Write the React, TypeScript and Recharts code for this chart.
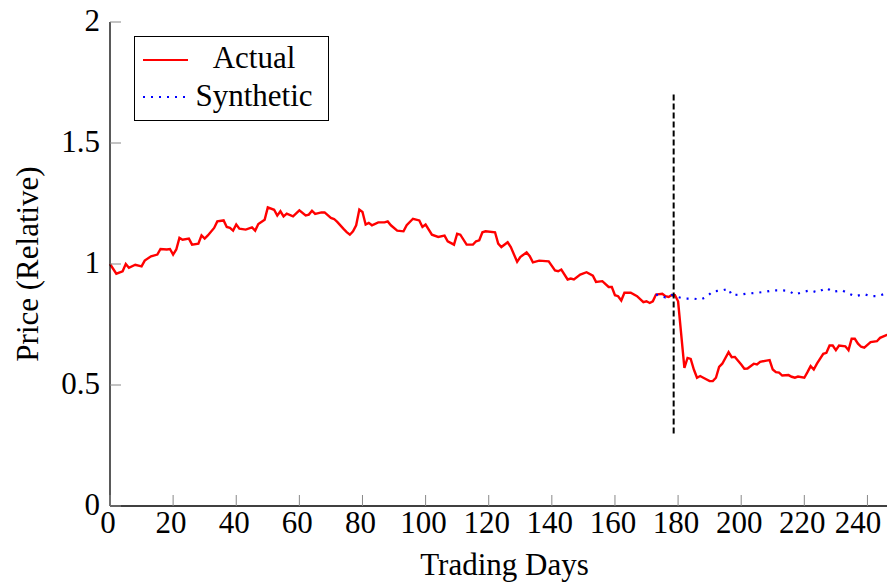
import { LineChart, Line, XAxis, YAxis, ReferenceLine, Legend } from "recharts";

const FONT = '"Liberation Serif", "Times New Roman", serif';
const FS = 31;

const X_TICKS = [0, 20, 40, 60, 80, 100, 120, 140, 160, 180, 200, 220, 240];
const Y_TICKS = [0, 0.5, 1, 1.5, 2];

// actual price, relative to day 0
const ACTUAL_DAYS = [
  0, 2, 4, 5, 6, 8, 10, 11, 13, 15, 16, 18, 19, 20, 21, 22, 23, 25, 26, 28,
  29, 30, 31, 33, 34, 36, 37, 38, 39, 40, 41, 43, 45, 46, 47, 49, 50, 52, 53, 54,
  55, 56, 58, 60, 62, 63, 64, 65, 67, 68, 70, 71, 72, 74, 75, 76, 77, 78, 79, 80,
  81, 82, 83, 85, 87, 88, 89, 91, 93, 94, 96, 98, 99, 100, 102, 104, 106, 107, 109, 110,
  111, 113, 115, 116, 117, 118, 119, 122, 123, 124, 126, 127, 129, 130, 132, 133, 134, 136, 139, 141,
  142, 143, 145, 146, 147, 149, 151, 153, 154, 156, 158, 159, 160, 161, 162, 163, 165, 167, 169, 170,
  171, 172, 173, 175, 176, 177, 178, 179, 180, 182, 183, 184, 185, 186, 187, 188, 190, 191, 192, 193,
  194, 196, 197, 198, 200, 201, 202, 204, 205, 206, 208, 209, 210, 211, 212, 213, 215, 216, 217, 218,
  220, 221, 222, 223, 224, 226, 227, 228, 229, 230, 231, 233, 234, 235, 236, 237, 238, 239, 241, 243,
  244, 246, 247,
];
const ACTUAL = [
  1.0, 0.96, 0.97, 1.0, 0.984, 0.997, 0.99, 1.014, 1.032, 1.039, 1.062, 1.06, 1.062, 1.039, 1.06, 1.108, 1.1, 1.105, 1.08, 1.084,
  1.118, 1.105, 1.118, 1.149, 1.176, 1.18, 1.153, 1.149, 1.138, 1.163, 1.146, 1.142, 1.151, 1.138, 1.165, 1.183, 1.234, 1.224, 1.2, 1.218,
  1.197, 1.208, 1.197, 1.222, 1.201, 1.204, 1.22, 1.207, 1.213, 1.213, 1.19, 1.186, 1.174, 1.145, 1.132, 1.121, 1.135, 1.16, 1.225, 1.215,
  1.163, 1.17, 1.16, 1.172, 1.172, 1.176, 1.16, 1.138, 1.135, 1.16, 1.187, 1.18, 1.153, 1.163, 1.121, 1.112, 1.117, 1.094, 1.08, 1.125,
  1.121, 1.08, 1.08, 1.094, 1.098, 1.131, 1.135, 1.131, 1.084, 1.07, 1.09, 1.07, 1.009, 1.029, 1.048, 1.032, 1.007, 1.014, 1.011, 0.973,
  0.97, 0.977, 0.936, 0.94, 0.936, 0.956, 0.966, 0.952, 0.926, 0.929, 0.905, 0.905, 0.871, 0.867, 0.849, 0.881, 0.881, 0.867, 0.842, 0.846,
  0.839, 0.846, 0.874, 0.877, 0.867, 0.864, 0.872, 0.871, 0.846, 0.571, 0.612, 0.608, 0.564, 0.53, 0.537, 0.53, 0.516, 0.516, 0.53, 0.575,
  0.588, 0.636, 0.615, 0.616, 0.585, 0.567, 0.568, 0.588, 0.585, 0.596, 0.601, 0.603, 0.564, 0.553, 0.551, 0.539, 0.541, 0.534, 0.53, 0.535,
  0.53, 0.553, 0.578, 0.564, 0.588, 0.629, 0.633, 0.663, 0.663, 0.644, 0.663, 0.66, 0.644, 0.691, 0.691, 0.671, 0.658, 0.654, 0.677, 0.681,
  0.695, 0.706, 0.71,
];

// synthetic control, from shortly before the event
const SYNTH_DAYS = [
  173, 176, 178, 180, 182, 185, 187, 189, 191, 194, 196, 197, 200, 202, 205, 208, 210, 213, 215, 217,
  220, 222, 224, 227, 229, 232, 234, 236, 239, 241, 243, 246, 248,
];
const SYNTH = [
  0.874, 0.862, 0.872, 0.863, 0.857, 0.857, 0.853, 0.864, 0.887, 0.891, 0.898, 0.871, 0.874, 0.878, 0.881, 0.886, 0.891, 0.891, 0.889, 0.874,
  0.886, 0.891, 0.883, 0.901, 0.885, 0.891, 0.878, 0.867, 0.875, 0.867, 0.867, 0.878, 0.88,
];

const EVENT_DAY = 178.6;
const EVENT_RANGE = [0.3, 1.7];

const actualData = ACTUAL_DAYS.map((day, i) => ({ day, value: ACTUAL[i] }));
const synthData = SYNTH_DAYS.map((day, i) => ({ day, value: SYNTH[i] }));

const BottomTick = (props: any) => {
  const { x, y, payload } = props;
  // the last label is pulled in so it stays inside the picture
  const tx = Math.min(x - 2, 858);
  return (
    <g>
      <line x1={x} y1={y} x2={x} y2={y - 11} stroke="#888" strokeWidth={1} />
      <text x={tx} y={y + 27} textAnchor="middle" fontFamily={FONT} fontSize={FS} fill="#000">
        {payload.value}
      </text>
    </g>
  );
};

const TopTick = (props: any) => {
  const { x, y } = props;
  return <line x1={x} y1={y} x2={x} y2={y + 11} stroke="#888" strokeWidth={1} />;
};

const LeftTick = (props: any) => {
  const { x, y, payload } = props;
  return (
    <g>
      <line x1={x} y1={y} x2={x + 11} y2={y} stroke="#888" strokeWidth={1} />
      <text x={x - 10} y={y + 9} textAnchor="end" fontFamily={FONT} fontSize={FS} fill="#000">
        {String(payload.value)}
      </text>
    </g>
  );
};

const XTitle = (props: any) => {
  const vb = props.viewBox || { x: 110, y: 506, width: 789, height: 76 };
  return (
    <text x={vb.x + vb.width / 2} y={vb.y + 69} textAnchor="middle" fontFamily={FONT} fontSize={FS} fill="#000">
      Trading Days
    </text>
  );
};

const YTitle = (props: any) => {
  const vb = props.viewBox || { x: 0, y: 22, width: 110, height: 484 };
  const cx = vb.x + 27;
  const cy = vb.y + vb.height / 2;
  return (
    <text
      x={cx}
      y={cy}
      transform={`rotate(-90 ${cx} ${cy})`}
      textAnchor="middle"
      dominantBaseline="central"
      fontFamily={FONT}
      fontSize={FS}
      fill="#000"
    >
      Price (Relative)
    </text>
  );
};

const LegendBox = (props: any) => {
  const items = props.payload || [];
  return (
    <svg width={195} height={85} style={{ display: "block" }}>
      <rect x={0.5} y={0.5} width={194} height={84} fill="#fff" stroke="#000" strokeWidth={1} />
      {items.map((it: any, i: number) => {
        const cy = 24 + i * 37;
        return (
          <g key={it.value}>
            <line
              x1={9}
              y1={cy}
              x2={54}
              y2={cy}
              stroke={it.color}
              strokeWidth={2}
              strokeDasharray={it.payload?.strokeDasharray}
            />
            <text x={120} y={cy + 8 + i} textAnchor="middle" fontFamily={FONT} fontSize={FS} fill="#000">
              {it.value}
            </text>
          </g>
        );
      })}
    </svg>
  );
};

export default function App() {
  return (
    <div
      style={{
        position: "absolute",
        left: 0,
        top: 0,
        width: 887,
        height: 582,
        overflow: "hidden",
        background: "#fff",
      }}
    >
      <LineChart width={900} height={582} margin={{ top: 22, right: 1, left: 0, bottom: 0 }}>
        <XAxis
          dataKey="day"
          type="number"
          domain={[0, 250]}
          ticks={X_TICKS}
          interval={0}
          height={76}
          tickLine={false}
          tickSize={0}
          tickMargin={0}
          axisLine={{ stroke: "#000", strokeWidth: 1.3 }}
          tick={<BottomTick />}
          label={<XTitle />}
          allowDuplicatedCategory={false}
        />
        <XAxis
          xAxisId="top"
          orientation="top"
          dataKey="day"
          type="number"
          domain={[0, 250]}
          ticks={X_TICKS}
          interval={0}
          height={0}
          tickLine={false}
          tickSize={0}
          tickMargin={0}
          axisLine={{ stroke: "#000", strokeWidth: 1.3 }}
          tick={<TopTick />}
        />
        <YAxis
          type="number"
          domain={[0, 2]}
          ticks={Y_TICKS}
          interval={0}
          width={110}
          tickLine={false}
          tickSize={0}
          tickMargin={0}
          axisLine={{ stroke: "#000", strokeWidth: 1.3 }}
          tick={<LeftTick />}
          label={<YTitle />}
        />
        <Legend
          layout="horizontal"
          verticalAlign="middle"
          align="center"
          content={<LegendBox />}
          wrapperStyle={{ position: "absolute", left: 134, top: 36, width: 195, height: 85 }}
        />
        <Line
          data={actualData}
          dataKey="value"
          name="Actual"
          type="linear"
          stroke="#ff0000"
          strokeWidth={2.4}
          dot={false}
          activeDot={false}
          isAnimationActive={false}
        />
        <Line
          data={synthData}
          dataKey="value"
          name="Synthetic"
          type="linear"
          stroke="#0000ff"
          strokeWidth={2.2}
          strokeDasharray="2 6"
          dot={false}
          activeDot={false}
          isAnimationActive={false}
        />
        <ReferenceLine
          segment={[
            { x: EVENT_DAY, y: EVENT_RANGE[0] },
            { x: EVENT_DAY, y: EVENT_RANGE[1] },
          ]}
          stroke="#000"
          strokeWidth={2}
          strokeDasharray="6 3"
        />
      </LineChart>
    </div>
  );
}
